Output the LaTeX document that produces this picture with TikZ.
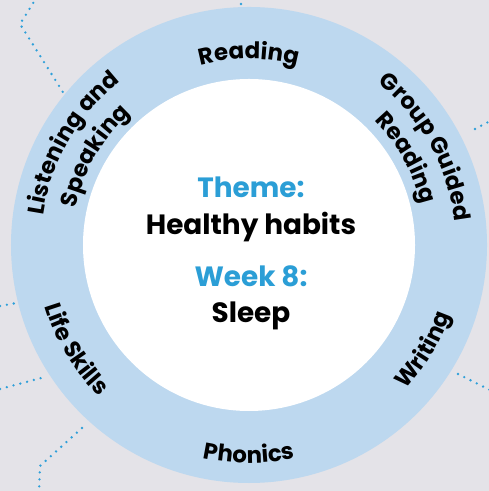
\documentclass[tikz,border=0pt]{standalone}
\usepackage{fontspec}
\setmainfont{Poppins}
\usetikzlibrary{decorations.text,calc}
\definecolor{bgc}{HTML}{E4E3E8}
\definecolor{ringc}{HTML}{BDD8EF}
\definecolor{themeblue}{HTML}{2B9ED6}
\definecolor{dotc}{HTML}{2E9FD9}
\newcommand\lblfont{\bfseries\fontsize{23}{23}\selectfont}
\newcommand\ctrfont{\bfseries\fontsize{28}{28}\selectfont}
\begin{document}
\begin{tikzpicture}[x=1bp,y=1bp,
  dots/.style={dotc, line width=2.6bp, line cap=round, dash pattern=on 0bp off 7bp},
  ringlabel/.style={decorate, decoration={text along path, text align=center, text={|\lblfont|#1}}},
  ctr/.style={anchor=base, font=\ctrfont, inner sep=0pt}
]
\fill[bgc] (0,0) rectangle (489,491);
\useasboundingbox (0,0) rectangle (489,491);
\coordinate (C) at (249,246);
% dotted background lines
\coordinate (d1a) at (37,494); \coordinate (d1b) at (20,467); \coordinate (d1c) at (66,394);
\draw[dots] (d1a) -- (d1b) -- (d1c);
\coordinate (d2a) at (0,185); \coordinate (d2b) at (22,189);
\draw[dots] (d2a) -- (d2b);
\coordinate (d3a) at (0,102); \coordinate (d3b) at (45,114);
\draw[dots] (d3a) -- (d3b);
\coordinate (d4a) at (82,63); \coordinate (d4b) at (40,25); \coordinate (d4c) at (39,-4);
\draw[dots] (d4a) -- (d4b) -- (d4c);
\coordinate (d5a) at (475,362); \coordinate (d5b) at (492,371);
\draw[dots] (d5a) -- (d5b);
\coordinate (d6a) at (458,117); \coordinate (d6b) at (492,100);
\draw[dots] (d6a) -- (d6b);
\coordinate (d7a) at (241,494); \coordinate (d7b) at (241,480);
\draw[dots] (d7a) -- (d7b);
% ring
\node[circle, fill=ringc, minimum size=476bp, inner sep=0pt] (ring) at (C) {};
\node[circle, fill=white, minimum size=332bp, inner sep=0pt] (hub) at (C) {};
% ring labels (top: clockwise, bottom: counter-clockwise)
\path[ringlabel={Reading}] ($(C)+(150:186)$) arc[start angle=150, end angle=30, radius=186];
\path[ringlabel={Group Guided}] ($(C)+(89:207)$) arc[start angle=89, end angle=-31, radius=207];
\path[ringlabel={Reading}] ($(C)+(89:177)$) arc[start angle=89, end angle=-31, radius=177];
\path[ringlabel={Listening and}] ($(C)+(210:208)$) arc[start angle=210, end angle=90, radius=208];
\path[ringlabel={Speaking}] ($(C)+(210:177)$) arc[start angle=210, end angle=90, radius=177];
\path[ringlabel={Writing}] ($(C)+(-91:213)$) arc[start angle=-91, end angle=29, radius=213];
\path[ringlabel={Phonics}] ($(C)+(-150:218)$) arc[start angle=-150, end angle=-30, radius=218];
\path[ringlabel={Life Skills}] ($(C)+(-209:213)$) arc[start angle=-209, end angle=-89, radius=213];
% centre text
\node[ctr, text=themeblue] (theme) at (251,293) {Theme:};
\node[ctr] (topic) at (251,256) {Healthy habits};
\node[ctr, text=themeblue] (week) at (251,204) {Week 8:};
\node[ctr] (sleep) at (251,168) {Sleep};
\end{tikzpicture}
\end{document}
